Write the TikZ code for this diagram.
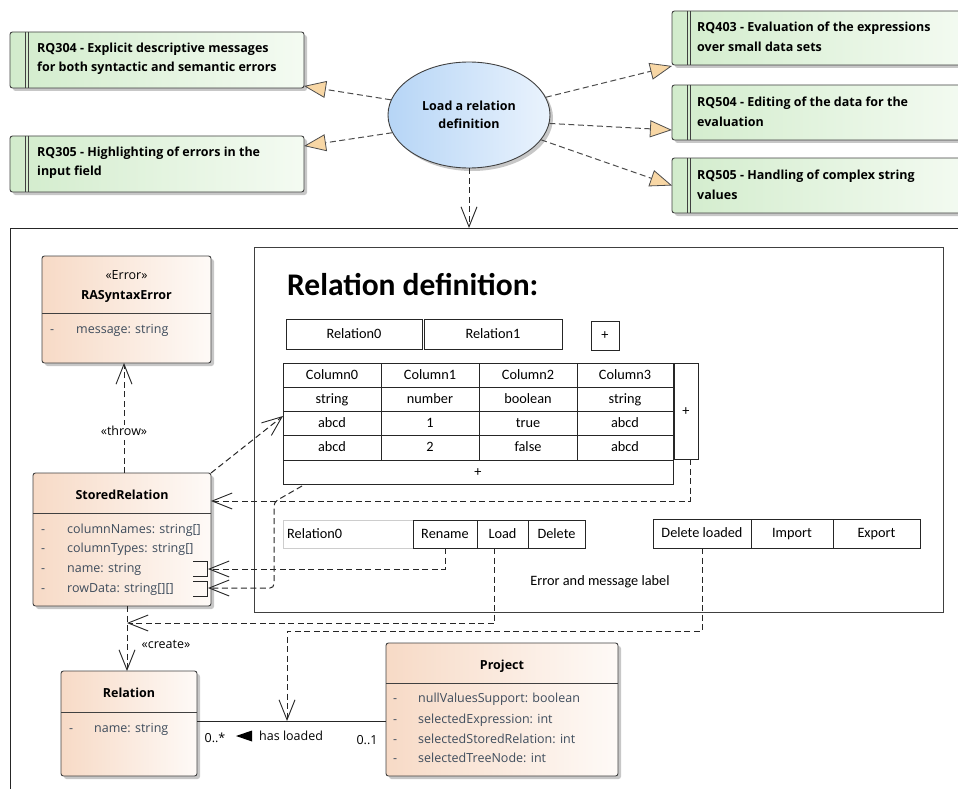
\documentclass[tikz,border=0pt]{standalone}
\usepackage{fontspec}
\setmainfont{Open Sans}
\newfontfamily\uifont{Carlito}
\usetikzlibrary{arrows.meta,shadows,shapes.geometric,calc}

\definecolor{reqL}{RGB}{210,236,204}
\definecolor{reqR}{RGB}{244,251,242}
\definecolor{clsL}{RGB}{247,218,198}
\definecolor{clsR}{RGB}{254,250,247}
\definecolor{ucL}{RGB}{182,213,246}
\definecolor{ucR}{RGB}{234,243,253}
\definecolor{tritan}{RGB}{248,215,165}
\definecolor{attrc}{RGB}{62,76,92}
\definecolor{edgec}{RGB}{64,64,64}
\definecolor{fieldc}{RGB}{205,205,205}

\begin{document}
\begin{tikzpicture}[x=1pt,y=-1pt,
  eafont/.style={font=\fontsize{12.5}{15}\selectfont},
  eabold/.style={font=\fontsize{12.5}{15}\selectfont\bfseries},
  uitext/.style={font=\uifont\fontsize{14.3}{16}\selectfont, text height=10pt, text depth=2pt},
  softshadow/.style={drop shadow={opacity=0.22,shadow xshift=3pt,shadow yshift=-3pt,fill=black}},
  eabox/.style={anchor=north west, inner sep=0pt, outer sep=0pt},
  reqbox/.style={eabox, draw=edgec, line width=0.9pt, rounded corners=2.5pt, left color=reqL, right color=reqR, softshadow},
  clsbox/.style={eabox, draw=edgec, line width=0.9pt, rounded corners=2.5pt, left color=clsL, right color=clsR, softshadow},
  uibox/.style={eabox, draw=black!85, line width=0.9pt, fill=white, uitext},
  reqtext/.style={eabold, anchor=west, inner sep=0pt, text height=9.5pt, text depth=2.5pt},
  ctext/.style={eafont, inner sep=0pt, text height=9.5pt, text depth=2.5pt},
  cbold/.style={eabold, inner sep=0pt, text height=9.5pt, text depth=2.5pt},
  attr/.style={eafont, text=attrc, anchor=west, inner sep=0pt, text height=9.5pt, text depth=2.5pt},
  dashline/.style={draw=black!85, line width=1pt, dash pattern=on 6pt off 3.5pt},
  dep/.style={dashline, -{Straight Barb[length=20pt,width=16pt,line width=0.9pt]}},
  realize/.style={dashline, draw=black!70, -{Triangle[length=22pt,width=17pt,fill=tritan,line width=0.8pt]}},
  sep/.style={draw=edgec, line width=0.9pt}
]
\useasboundingbox (0,0) rectangle (958,789);
\clip (0,0) rectangle (958,789);

% ---------- requirements ----------
\node[reqbox, minimum width=294pt, minimum height=56pt] (rq304) at (10,32) {};
\node[reqbox, minimum width=294pt, minimum height=56pt] (rq305) at (10,136) {};
\node[reqbox, minimum width=300pt, minimum height=54pt] (rq403) at (672,11) {};
\node[reqbox, minimum width=300pt, minimum height=55pt] (rq504) at (672,85) {};
\node[reqbox, minimum width=300pt, minimum height=55pt] (rq505) at (672,158) {};
\foreach \r in {rq304,rq305,rq403,rq504,rq505} {
  \draw[edgec, line width=0.8pt] ([xshift=15.5pt]\r.north west) -- ([xshift=15.5pt]\r.south west);
  \draw[edgec, line width=0.8pt] ([xshift=18.5pt]\r.north west) -- ([xshift=18.5pt]\r.south west);
}
\node[reqtext] (t304a) at (37,49) {RQ304 - Explicit descriptive messages};
\node[reqtext] (t304b) at (37,68) {for both syntactic and semantic errors};
\node[reqtext] (t305a) at (37,153) {RQ305 - Highlighting of errors in the};
\node[reqtext] (t305b) at (37,172) {input field};
\node[reqtext] (t403a) at (697,28) {RQ403 - Evaluation of the expressions};
\node[reqtext] (t403b) at (697,48) {over small data sets};
\node[reqtext] (t504a) at (697,103) {RQ504 - Editing of the data for the};
\node[reqtext] (t504b) at (697,123) {evaluation};
\node[reqtext] (t505a) at (697,176) {RQ505 - Handling of complex string};
\node[reqtext] (t505b) at (697,196) {values};

% ---------- use case ----------
\node[ellipse, draw=edgec, line width=0.9pt, left color=ucL, right color=ucR,
      minimum width=162pt, minimum height=106pt, inner sep=0pt, softshadow] (uc) at (469,115) {};
\node[cbold] (uct1) at (469,107) {Load a relation};
\node[cbold] (uct2) at (469,125) {definition};

\draw[realize] (uc.169) -- ([yshift=2pt]rq304.south east);
\draw[realize] (uc.193) -- ([yshift=-10pt]rq305.north east);
\draw[realize] (uc.13) -- ([yshift=-1pt]rq403.south west);
\draw[realize] (uc.354) -- ([yshift=10pt]rq504.south west);
\draw[realize] (uc.341) -- (rq505.west);

% ---------- outer frame and UI panel ----------
\node[eabox, draw=black!85, line width=0.9pt, minimum width=960pt, minimum height=580pt] (frame) at (10,228) {};
\draw[dep] (uc.south) -- (uc.south |- frame.north);

\node[eabox, draw=black!75, line width=0.9pt, minimum width=689pt, minimum height=365pt] (panel) at (254,247) {};
\node[anchor=west, inner sep=0pt, font=\uifont\bfseries\fontsize{31.5}{36}\selectfont] (reltitle) at (287,285) {Relation definition:};

% tabs
\node[uibox, minimum width=136pt, minimum height=30pt] (tab0) at (286,319) {Relation0};
\node[uibox, minimum width=138pt, minimum height=30pt] (tab1) at (424,319) {Relation1};
\node[uibox, minimum width=28pt, minimum height=29pt] (tabplus) at (591,321) {+};

% data grid
\node[uibox, minimum width=390pt, minimum height=97pt] (tbl) at (283,363) {};
\foreach \yy in {387,411,435} \draw[black!85, line width=0.9pt] (283,\yy) -- (673,\yy);
\foreach \xx in {381,479,577} \draw[black!85, line width=0.9pt] (\xx,363) -- (\xx,460);
\foreach \yy/\a/\b/\c/\d [count=\r] in {375/Column0/Column1/Column2/Column3,
    399/string/number/boolean/string, 423/abcd/1/true/abcd, 447.5/abcd/2/false/abcd} {
  \node[uitext] (cell\r-a) at (332,\yy) {\a};
  \node[uitext] (cell\r-b) at (430,\yy) {\b};
  \node[uitext] (cell\r-c) at (528,\yy) {\c};
  \node[uitext] (cell\r-d) at (625,\yy) {\d};
}
\node[uibox, minimum width=390pt, minimum height=24pt] (addrow) at (283,460) {+};
\node[uibox, minimum width=24pt, minimum height=96pt] (addcol) at (674,363) {+};

% lower controls
\node[uibox, draw=fieldc, minimum width=130pt, minimum height=28pt] (relfield) at (283,520) {};
\node[uitext, anchor=west, inner sep=0pt] (relfieldtxt) at (287,534) {Relation0};
\node[uibox, minimum width=64pt, minimum height=28pt] (rename) at (413,520) {Rename};
\node[uibox, minimum width=51pt, minimum height=28pt] (load) at (477,520) {Load};
\node[uibox, minimum width=57pt, minimum height=28pt] (delete) at (528,520) {Delete};
\node[uibox, minimum width=98pt, minimum height=29pt] (delloaded) at (653,519) {Delete loaded};
\node[uibox, minimum width=82pt, minimum height=29pt] (import) at (751,519) {Import};
\node[uibox, minimum width=87pt, minimum height=29pt] (export) at (833,519) {Export};
\node[uitext] (errlabel) at (600,581) {Error and message label};

% ---------- classes ----------
\node[clsbox, minimum width=169pt, minimum height=107pt] (rase) at (42,256) {};
\draw[sep] (42,313) -- (211,313);
\node[ctext] (rasest) at (126.5,276) {«Error»};
\node[cbold] (rasename) at (126.5,296) {RASyntaxError};
\node[attr] (rased) at (50,330) {-};
\node[attr] (rasea) at (76,330) {message: string};

\node[clsbox, minimum width=178pt, minimum height=133pt] (stored) at (33,473) {};
\draw[sep] (33,513) -- (211,513);
\node[cbold] (storedname) at (122,496) {StoredRelation};
\foreach \yy/\t [count=\i] in {530/{columnNames: string[]}, 549/{columnTypes: string[]},
    569/{name: string}, 589/{rowData: string[][]}} {
  \node[attr] (storedd\i) at (41,\yy) {-};
  \node[attr] (storeda\i) at (67,\yy) {\t};
}
\draw[black!85, line width=0.9pt] (193,561) -- (207,561) -- (207,576) -- (193,576);
\draw[black!85, line width=0.9pt] (193,581) -- (207,581) -- (207,596) -- (193,596);
\coordinate (nameport) at (208,569);
\coordinate (rowport) at (208,588);

\node[clsbox, minimum width=136pt, minimum height=105pt] (relation) at (61,671) {};
\draw[sep] (61,712) -- (197,712);
\node[cbold] (relationname) at (129,694) {Relation};
\node[attr] (relationd) at (69,729) {-};
\node[attr] (relationa) at (94,729) {name: string};

\node[clsbox, minimum width=232pt, minimum height=133pt] (project) at (386,643) {};
\draw[sep] (386,683) -- (618,683);
\node[cbold] (projectname) at (502,666) {Project};
\foreach \yy/\t [count=\i] in {699/{nullValuesSupport: boolean}, 720/{selectedExpression: int},
    740/{selectedStoredRelation: int}, 759/{selectedTreeNode: int}} {
  \node[attr] (projectd\i) at (393,\yy) {-};
  \node[attr] (projecta\i) at (418,\yy) {\t};
}

% ---------- class relationships ----------
\coordinate (throwx) at (124,0);
\coordinate (createx) at (127,0);
\draw[dep] (stored.north -| throwx) -- node[pos=0.37, ctext, fill=white, inner sep=1.5pt] (throwlbl) {«throw»} (rase.south -| throwx);
\draw[dep] (stored.south -| createx) -- (relation.north -| createx);
\node[ctext] (createlbl) at (166,645) {«create»};

\coordinate (assocl) at ([yshift=2.5pt]relation.east);
\draw[black!85, line width=0.9pt] (assocl) -- (project.west |- assocl);
\node[ctext] (multl) at (215,739) {0..*};
\fill[black] (236,736) -- (252,730.5) -- (252,741.5) -- cycle;
\node[ctext, anchor=west] (haslbl) at (259,737) {has loaded};
\node[ctext] (multr) at (367,741) {0..1};

% ---------- UI bindings ----------
\coordinate (loadhit) at (127,623);
\coordinate (assochit) at (287,721);
\draw[dep] (stored.north east) -- ([yshift=-4.5pt]tbl.west);
\draw[dep] ([xshift=4pt]addcol.south) |- ([yshift=38.5pt]stored.east);
\draw[dep, rounded corners=4pt] ([xshift=19pt,yshift=-2pt]addrow.south west) -- ++(-28,16) |- (rowport);
\draw[dep] (rename.south) |- (nameport);
\draw[dep] ([xshift=-8pt]load.south) |- (loadhit);
\draw[dep] (delloaded.south) -- ++(0,83) -| (assochit);
\end{tikzpicture}
\end{document}
